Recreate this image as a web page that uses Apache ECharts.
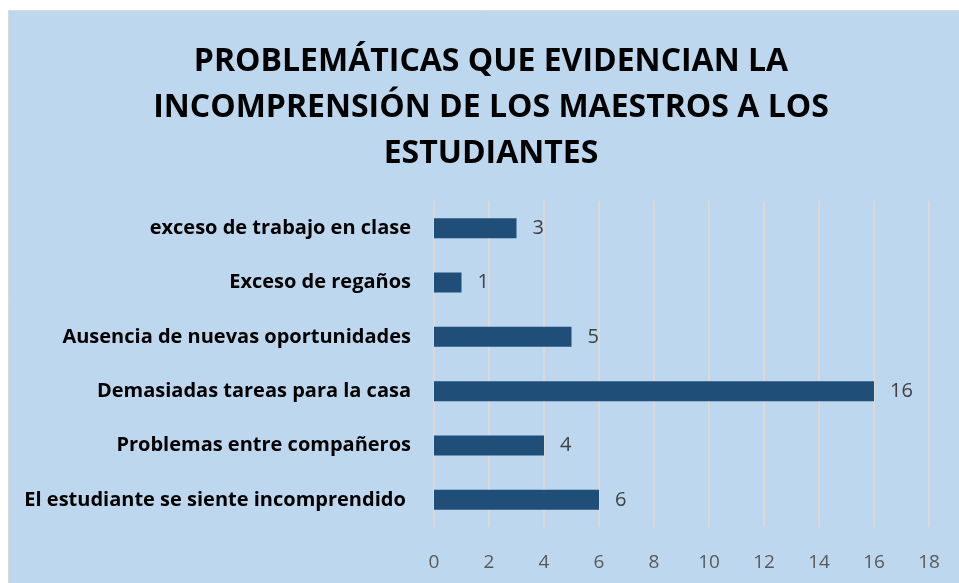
<!DOCTYPE html>
<html>
<head>
<meta charset="utf-8">
<script src="https://cdn.jsdelivr.net/npm/echarts@6/dist/echarts.min.js"></script>
<style>
html,body{margin:0;padding:0;background:#ffffff;}
#chart{width:959px;height:583px;}
</style>
</head>
<body>
<div id="chart"></div>
<script>
const titleText = "PROBLEMÁTICAS QUE EVIDENCIAN LA\nINCOMPRENSIÓN DE LOS MAESTROS A LOS\nESTUDIANTES";
const categories = [
  "El estudiante se siente incomprendido ",
  "Problemas entre compañeros",
  "Demasiadas tareas para la casa",
  "Ausencia de nuevas oportunidades",
  "Exceso de regaños",
  "exceso de trabajo en clase"
];
const values = [6, 4, 16, 5, 1, 3];
const axisMin = 0, axisMax = 18, axisStep = 2;

const chart = echarts.init(document.getElementById('chart'), null, {renderer: 'canvas'});
chart.setOption({
  backgroundColor: 'transparent',
  animation: false,
  graphic: [{
    type: 'rect', z: -10, silent: true,
    shape: {x: 8.5, y: 10.5, width: 960, height: 580},
    style: {fill: '#BDD7EE', stroke: '#D9D9D9', lineWidth: 1}
  }],
  title: {
    text: titleText,
    left: 491,
    top: 39,
    padding: 0,
    textAlign: 'center',
    textStyle: {
      fontFamily: 'Open Sans', fontWeight: 'bold', fontSize: 32,
      color: '#000000', lineHeight: 46
    }
  },
  grid: {left: 434, right: 30, top: 201, bottom: 56, containLabel: false},
  xAxis: {
    type: 'value', min: axisMin, max: axisMax, interval: axisStep,
    axisLine: {show: false}, axisTick: {show: false},
    axisLabel: {margin: 26, color: '#595959', fontFamily: 'Open Sans', fontSize: 19},
    splitLine: {show: true, lineStyle: {color: '#D9D9D9', width: 2}}
  },
  yAxis: {
    type: 'category', data: categories,
    axisLine: {show: false}, axisTick: {show: false},
    axisLabel: {margin: 23, color: '#000000', fontFamily: 'Open Sans', fontWeight: 'bold', fontSize: 20}
  },
  series: [{
    type: 'bar', data: values, barWidth: 20,
    itemStyle: {color: '#1F4E79'},
    label: {show: true, position: 'right', distance: 16, color: '#404040', fontFamily: 'Open Sans', fontSize: 20}
  }]
});
</script>
</body>
</html>
